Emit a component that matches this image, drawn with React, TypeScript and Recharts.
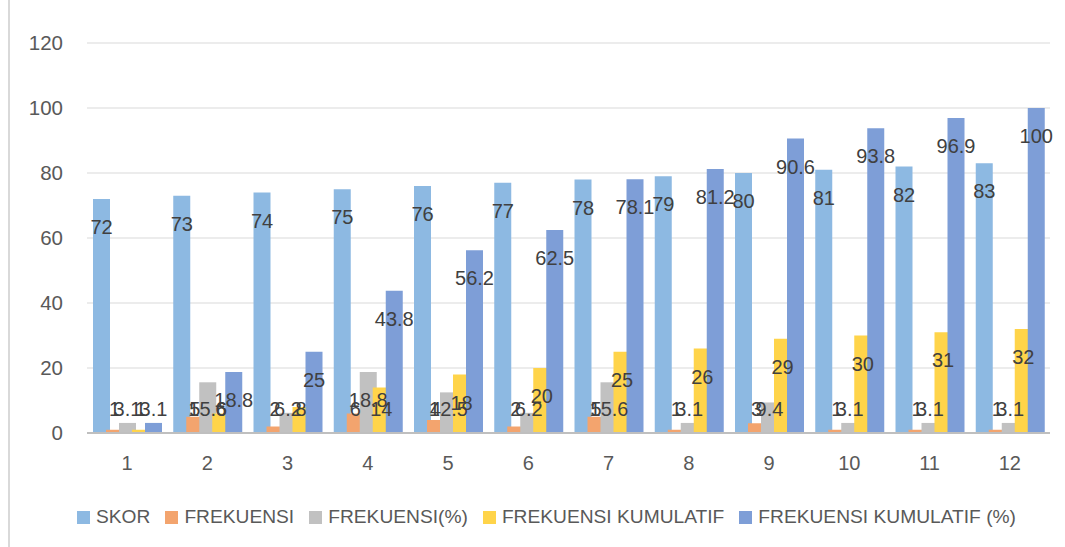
import { BarChart, Bar, XAxis, YAxis, CartesianGrid, Legend, LabelList } from "recharts"

const categories = ["1", "2", "3", "4", "5", "6", "7", "8", "9", "10", "11", "12"]
const skor = [72, 73, 74, 75, 76, 77, 78, 79, 80, 81, 82, 83]
const frekuensi = [1, 5, 2, 6, 4, 2, 5, 1, 3, 1, 1, 1]
const frekuensiPersen = [3.1, 15.6, 6.2, 18.8, 12.5, 6.2, 15.6, 3.1, 9.4, 3.1, 3.1, 3.1]
const kumulatif = [1, 6, 8, 14, 18, 20, 25, 26, 29, 30, 31, 32]
const kumulatifPersen = [3.1, 18.8, 25, 43.8, 56.2, 62.5, 78.1, 81.2, 90.6, 93.8, 96.9, 100]
const yTicks = [0, 20, 40, 60, 80, 100, 120]

const data = categories.map((cat, i) => ({
  cat,
  skor: skor[i],
  frek: frekuensi[i],
  frekPct: frekuensiPersen[i],
  kum: kumulatif[i],
  kumPct: kumulatifPersen[i],
}))

const series = [
  { key: "skor", name: "SKOR", color: "#8db9e2" },
  { key: "frek", name: "FREKUENSI", color: "#f3a46e" },
  { key: "frekPct", name: "FREKUENSI(%)", color: "#c1c1c1" },
  { key: "kum", name: "FREKUENSI KUMULATIF", color: "#ffd44a" },
  { key: "kumPct", name: "FREKUENSI KUMULATIF (%)", color: "#7e9ed7" },
]

const FONT = "'Liberation Sans', Arial, sans-serif"

// excel puts labels ~28px under the bar top, but never lower than just above the axis
const renderLabel = (props: any) => {
  const { x, y, width, height, value } = props
  const cy = Math.min(y + 28, y + height - 24)
  return (
    <text
      x={x + width / 2}
      y={cy}
      textAnchor="middle"
      dominantBaseline="central"
      fontSize={20}
      fontFamily={FONT}
      fill="#404040"
    >
      {value}
    </text>
  )
}

const renderLegend = () => (
  <div
    style={{
      display: "flex",
      alignItems: "center",
      paddingLeft: 77,
      height: 30,
      fontFamily: FONT,
      fontSize: 19.2,
      color: "#595959",
      whiteSpace: "nowrap",
    }}
  >
    {series.map((s) => (
      <div key={s.key} style={{ display: "flex", alignItems: "center", marginRight: 15 }}>
        <span style={{ width: 13, height: 13, background: s.color, marginRight: 6, display: "inline-block" }} />
        {s.name}
      </div>
    ))}
  </div>
)

export default function App() {
  return (
    <div style={{ position: "absolute", left: 0, top: 0, width: 1065, height: 547, background: "#fff" }}>
      <div style={{ position: "absolute", left: 8, top: 0, width: 2, height: 547, background: "#d9d9d9" }} />
      <BarChart
        width={1065}
        height={547}
        data={data}
        margin={{ top: 43, right: 15, left: 0, bottom: 24 }}
        barGap={-4}
        barSize={17}
      >
        <CartesianGrid vertical={false} stroke="#d9d9d9" />
        <XAxis
          dataKey="cat"
          height={60}
          axisLine={{ stroke: "#bfbfbf", strokeWidth: 2 }}
          tickLine={false}
          tickMargin={17}
          tick={{ fontSize: 20, fill: "#595959", fontFamily: FONT }}
        />
        <YAxis
          domain={[0, 120]}
          ticks={yTicks}
          width={87}
          axisLine={false}
          tickLine={false}
          tickMargin={18}
          tick={{ fontSize: 20.5, fill: "#595959", fontFamily: FONT }}
        />
        <Legend verticalAlign="bottom" content={renderLegend} wrapperStyle={{ left: 0, top: 502, width: 1065 }} />
        {series.map((s) => (
          <Bar key={s.key} dataKey={s.key} name={s.name} fill={s.color} isAnimationActive={false}>
            <LabelList dataKey={s.key} content={renderLabel} />
          </Bar>
        ))}
      </BarChart>
    </div>
  )
}
